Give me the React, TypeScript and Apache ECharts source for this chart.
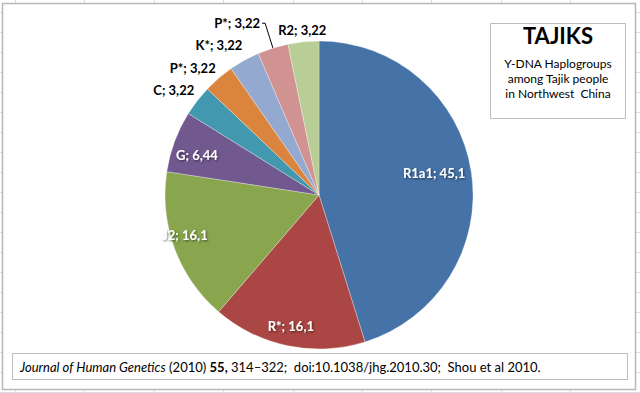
import React, { useEffect, useRef } from "react";
import * as echarts from "echarts";

const categories = ["R1a1", "R*", "J2", "G", "C", "P*", "K*", "P*", "R2"];
const values = [45.1, 16.1, 16.1, 6.44, 3.22, 3.22, 3.22, 3.22, 3.22];
const colors = ["#4572A7", "#AA4643", "#89A54E", "#71588F", "#4198AF", "#DB843D", "#93A9CF", "#D19392", "#B9CD96"];

const titleText = "TAJIKS";
const subtitleLines = ["Y-DNA Haplogroups", "among Tajik people", "in Northwest  China"];

// label placement styles (not data)
const labelInside = [true, true, true, true, false, false, false, false, false];
const labelOffsets: [number, number][] = [
  [36, -10], [-12, 53], [-59, 12], [-47, -12],
  [2, -11], [2, -10], [3, -15], [0, 0], [28, -12],
];
const leader = [false, false, false, false, false, false, false, true, false];

const FONT = "Lato, 'Open Sans', sans-serif";

export default function App() {
  const ref = useRef<HTMLDivElement>(null);
  useEffect(() => {
    if (!ref.current) return;
    const chart = echarts.init(ref.current, null, { renderer: "svg" });

    const data = categories.map((name, i) => {
      const inside = labelInside[i];
      return {
        name,
        value: values[i],
        itemStyle: { color: colors[i] },
        label: inside
          ? {
              position: "inside",
              offset: labelOffsets[i],
              color: "#fff",
              textShadowColor: "rgba(0,0,0,0.55)",
              textShadowBlur: 2,
              textShadowOffsetX: 1,
              textShadowOffsetY: 1,
            }
          : {
              position: "outside",
              offset: labelOffsets[i],
              color: "#000",
              distanceToLabelLine: leader[i] ? 2 : 5,
            },
        labelLine: leader[i]
          ? { show: true, length: 26, length2: 3, lineStyle: { color: "#000", width: 1 } }
          : { show: false, length: 0, length2: 0 },
      };
    });

    // Excel sheet gridlines in the margins
    const grid: any[] = [];
    for (let x = 15; x < 640; x += 69.4) {
      grid.push({ type: "line", shape: { x1: Math.round(x) + 0.5, y1: 0, x2: Math.round(x) + 0.5, y2: 393 }, style: { stroke: "#d9dfe8", lineWidth: 1 }, silent: true, z: 0 });
    }
    for (let y = 12; y < 393; y += 20) {
      grid.push({ type: "line", shape: { x1: 0, y1: y + 0.5, x2: 640, y2: y + 0.5 }, style: { stroke: "#d9dfe8", lineWidth: 1 }, silent: true, z: 0 });
    }

    chart.setOption({
      animation: false,
      backgroundColor: "#fff",
      textStyle: { fontFamily: FONT },
      graphic: [
        ...grid,
        {
          type: "rect",
          shape: { x: 2.5, y: 3.5, width: 633, height: 386 },
          style: { fill: "#fff", stroke: "#b8b8b8", lineWidth: 1.5 },
          z: 1,
          silent: true,
        },
        {
          type: "rect",
          shape: { x: 490.5, y: 23.5, width: 135, height: 95 },
          style: { fill: "#fff", stroke: "#bdbdbd", lineWidth: 1 },
          z: 2,
          silent: true,
        },
        {
          type: "text",
          x: 558,
          y: 35,
          style: { text: titleText, fontFamily: FONT, fontSize: 22, fontWeight: "bold", fill: "#000", align: "center", verticalAlign: "middle" },
          z: 3,
        },
        ...subtitleLines.map((t, i) => ({
          type: "text",
          x: 558,
          y: 63 + i * 15,
          style: { text: t, fontFamily: FONT, fontSize: 12, fill: "#000", align: "center", verticalAlign: "middle" },
          z: 3,
        })),
        {
          type: "rect",
          shape: { x: 12.5, y: 353.5, width: 615, height: 26 },
          style: { fill: "#fff", stroke: "#bdbdbd", lineWidth: 1 },
          z: 2,
          silent: true,
        },
        {
          type: "text",
          x: 20,
          y: 367,
          style: {
            text: "{i|Journal of Human Genetics} (2010) {b|55,} 314–322;  doi:10.1038/jhg.2010.30;  Shou et al 2010.",
            fontFamily: FONT,
            fontSize: 13,
            fill: "#000",
            verticalAlign: "middle",
            rich: {
              i: { fontStyle: "italic", fontFamily: FONT, fontSize: 13, fill: "#000" },
              b: { fontWeight: "bold", fontFamily: FONT, fontSize: 13, fill: "#000" },
            },
          },
          z: 3,
        },
      ],
      series: [
        {
          type: "pie",
          center: [319, 195],
          radius: 154,
          startAngle: 90,
          clockwise: true,
          avoidLabelOverlap: false,
          z: 5,
          itemStyle: { borderColor: "rgba(255,255,255,0.5)", borderWidth: 0.6 },
          label: {
            show: true,
            fontFamily: FONT,
            fontSize: 13,
            fontWeight: "bold",
            formatter: (p: any) => `${p.name}; ${String(p.value).replace(".", ",")}`,
          },
          emphasis: { disabled: true },
          data,
        },
      ],
    });
    return () => chart.dispose();
  }, []);
  return <div ref={ref} style={{ position: "fixed", left: 0, top: 0, width: 640, height: 393 }} />;
}
